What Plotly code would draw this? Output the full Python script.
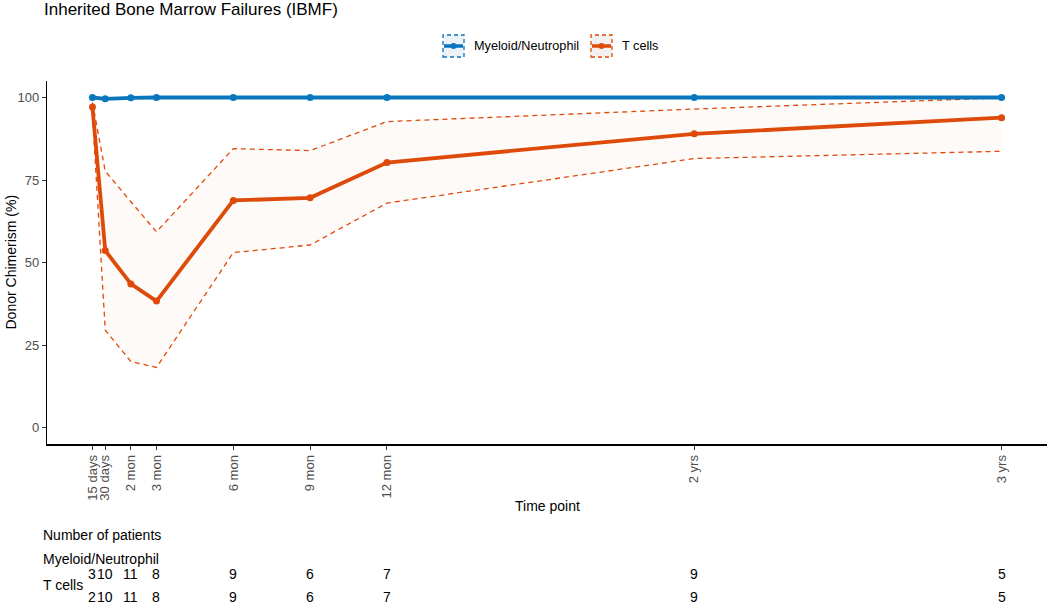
import plotly.graph_objects as go

# ---------------- data ----------------
time_months = [0.5, 1, 2, 3, 6, 9, 12, 24, 36]
tick_labels = ["15 days", "30 days", "2 mon", "3 mon", "6 mon", "9 mon", "12 mon", "2 yrs", "3 yrs"]

myeloid = [100.0, 99.6, 99.9, 100.0, 100.0, 100.0, 100.0, 100.0, 100.0]
tcells = [97.1, 53.6, 43.5, 38.3, 68.8, 69.6, 80.3, 89.0, 93.9]
tcells_upper = [98.5, 77.7, 68.4, 59.3, 84.5, 83.9, 92.7, 96.5, 99.9]
tcells_lower = [95.0, 29.5, 20.0, 18.2, 53.0, 55.3, 68.0, 81.5, 83.7]

n_myeloid = [3, 10, 11, 8, 9, 6, 7, 9, 5]
n_tcells = [2, 10, 11, 8, 9, 6, 7, 9, 5]

BLUE = "#0A76BC"
ORANGE = "#DE4A0A"
FONT = "Liberation Sans, Arial, Helvetica, sans-serif"

# plot area in pixels
W, H = 1050, 605
L, R, T, B = 47, 1047, 81, 444


def px(xp):
    return (xp - L) / (R - L)


def py(yp):
    return (B - yp) / (B - T)


fig = go.Figure()

# CI ribbon
fig.add_trace(go.Scatter(x=time_months, y=tcells_lower, mode="lines",
                         line=dict(color=ORANGE, width=1.3, dash="5px,4px"),
                         showlegend=False, hoverinfo="skip"))
fig.add_trace(go.Scatter(x=time_months, y=tcells_upper, mode="lines",
                         line=dict(color=ORANGE, width=1.3, dash="5px,4px"),
                         fill="tonexty", fillcolor="rgba(240,120,60,0.035)",
                         showlegend=False, hoverinfo="skip"))

fig.add_trace(go.Scatter(x=time_months, y=myeloid, mode="lines+markers",
                         line=dict(color=BLUE, width=3.8),
                         marker=dict(color=BLUE, size=7),
                         name="Myeloid/Neutrophil", showlegend=False))
fig.add_trace(go.Scatter(x=time_months, y=tcells, mode="lines+markers",
                         line=dict(color=ORANGE, width=3.8),
                         marker=dict(color=ORANGE, size=7),
                         name="T cells", showlegend=False))

annotations = []
shapes = []

# title
annotations.append(dict(text="Inherited Bone Marrow Failures (IBMF)", xref="paper", yref="paper",
                        x=px(42), y=py(9), xanchor="left", yanchor="middle", showarrow=False,
                        font=dict(size=17, color="black", family=FONT)))

# custom legend
for (x0, col, fillc, label) in [(443, BLUE, "#ECF1F5", "Myeloid/Neutrophil"),
                                (591, ORANGE, "#F3F1F0", "T cells")]:
    shapes.append(dict(type="rect", xref="paper", yref="paper",
                       x0=px(x0), x1=px(x0 + 21), y0=py(57), y1=py(35),
                       line=dict(color=col, width=1.3, dash="4px,3px"), fillcolor=fillc, layer="above"))
    shapes.append(dict(type="line", xref="paper", yref="paper",
                       x0=px(x0 + 1), x1=px(x0 + 20), y0=py(46), y1=py(46),
                       line=dict(color=col, width=3.5), layer="above"))
    shapes.append(dict(type="circle", xref="paper", yref="paper",
                       x0=px(x0 + 7.5), x1=px(x0 + 13.5), y0=py(49), y1=py(43),
                       line=dict(color=col, width=0), fillcolor=col, layer="above"))
    annotations.append(dict(text=label, xref="paper", yref="paper", x=px(x0 + 29), y=py(46),
                            xanchor="left", yanchor="middle", showarrow=False,
                            font=dict(size=12.7, color="black", family=FONT)))

# number at risk table
annotations.append(dict(text="Number of patients", xref="paper", yref="paper", x=px(41), y=py(535),
                        xanchor="left", yanchor="middle", showarrow=False,
                        font=dict(size=14, color="black", family=FONT)))
annotations.append(dict(text="Myeloid/Neutrophil", xref="paper", yref="paper", x=px(41), y=py(559),
                        xanchor="left", yanchor="middle", showarrow=False,
                        font=dict(size=14, color="black", family=FONT)))
annotations.append(dict(text="T cells", xref="paper", yref="paper", x=px(41), y=py(585),
                        xanchor="left", yanchor="middle", showarrow=False,
                        font=dict(size=14, color="black", family=FONT)))
for xv, n1, n2 in zip(time_months, n_myeloid, n_tcells):
    annotations.append(dict(text=str(n1), xref="x", yref="paper", x=xv, y=py(574),
                            xanchor="center", yanchor="middle", showarrow=False,
                            font=dict(size=14, color="black", family=FONT)))
    annotations.append(dict(text=str(n2), xref="x", yref="paper", x=xv, y=py(597),
                            xanchor="center", yanchor="middle", showarrow=False,
                            font=dict(size=14, color="black", family=FONT)))

# axis titles
annotations.append(dict(text="Time point", xref="paper", yref="paper", x=0.5, y=py(506),
                        xanchor="center", yanchor="middle", showarrow=False,
                        font=dict(size=14, color="black", family=FONT)))
annotations.append(dict(text="Donor Chimerism (%)", xref="paper", yref="paper", x=px(10), y=0.5,
                        xanchor="center", yanchor="middle", textangle=-90, showarrow=False,
                        font=dict(size=14, color="black", family=FONT)))

fig.update_layout(
    width=W, height=H,
    margin=dict(l=L, r=W - R, t=T, b=H - B, pad=0),
    paper_bgcolor="white", plot_bgcolor="white",
    font=dict(family=FONT, color="black"),
    annotations=annotations, shapes=shapes,
    showlegend=False,
)
fig.update_xaxes(range=[-1.275, 37.775], tickmode="array", tickvals=time_months, ticktext=tick_labels,
                 tickangle=-90, showgrid=False, zeroline=False, showline=True, linecolor="black",
                 linewidth=1.8, ticks="outside", ticklen=4, tickcolor="#333333",
                 tickfont=dict(size=13, color="#4D4D4D", family=FONT))
fig.update_yaxes(range=[-5, 105], tickvals=[0, 25, 50, 75, 100], showgrid=False, zeroline=False,
                 showline=True, linecolor="black", linewidth=1.3, ticks="outside", ticklen=4,
                 tickcolor="#333333", tickfont=dict(size=13, color="#4D4D4D", family=FONT))

fig.write_html("out.html", config={"displayModeBar": False},
               post_script="document.body.style.margin='0';document.body.style.overflow='hidden';")
